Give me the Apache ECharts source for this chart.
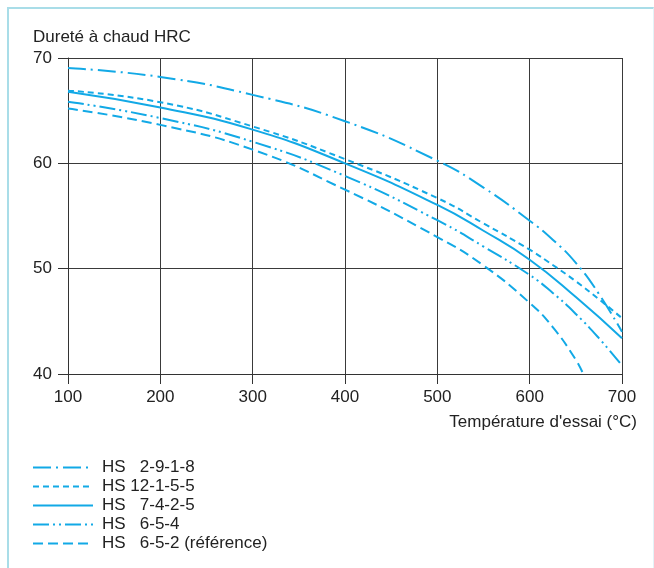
<!DOCTYPE html>
<html>
<head>
<meta charset="utf-8">
<title>Dureté à chaud</title>
<script src="https://cdn.jsdelivr.net/npm/echarts@6/dist/echarts.min.js"></script>
<style>
  html, body { margin: 0; padding: 0; background: #fff; }
  #frame { position: absolute; left: 7px; top: 7px; width: 644px; height: 570px;
           border-top: 2px solid #a9dde8; border-left: 2px solid #a9dde8; border-right: 1px solid #e3f3f8; }
  #chart { position: absolute; left: 0; top: 0; width: 654px; height: 568px; }
</style>
</head>
<body>
<div id="frame"></div>
<div id="chart"></div>
<script>
// temperatures (°C) and hot hardness (HRC)
var tA = [100, 200, 300, 400, 500, 550, 600, 625, 650, 675, 700];
var hs2918 = [69.05, 68.2, 66.5, 64.0, 60.25, 57.7, 54.55, 52.75, 50.55, 47.6, 44.0];
var tB = [100, 200, 300, 400, 500, 550, 600, 625, 650, 675, 700];
var hs12155 = [66.9, 65.8, 63.5, 60.4, 56.7, 54.3, 51.8, 50.35, 48.8, 47.1, 45.3];
var tC = [100, 200, 300, 400, 500, 550, 600, 650, 700];
var hs7425 = [66.8, 65.3, 63.2, 60.0, 56.05, 53.6, 50.85, 47.3, 43.4];
var tD = [100, 200, 300, 400, 500, 550, 600, 625, 650, 675, 700];
var hs654 = [65.85, 64.3, 62.05, 58.8, 54.6, 52.1, 49.4, 47.7, 45.7, 43.4, 40.8];
var tE = [100, 200, 300, 400, 500, 550, 600, 625, 650, 658];
var hs652 = [65.2, 63.65, 61.3, 57.5, 53.0, 50.3, 46.75, 44.45, 41.35, 40.0];

var names = ['HS   2-9-1-8', 'HS 12-1-5-5', 'HS   7-4-2-5', 'HS   6-5-4', 'HS   6-5-2 (référence)'];
var blue = '#12a9e6';

function pairs(xs, ys) {
	return xs.map(function(x, i) { return [x, ys[i]]; });
}

function line(name, xs, ys, dash) {
	return {
		name: name,
		type: 'line',
		smooth: 0.5,
		symbol: 'none',
		data: pairs(xs, ys),
		color: blue,
		lineStyle: { color: blue, width: 2, type: dash }
	};
}

var font = 'Liberation Sans, Arial, sans-serif';
var chart = echarts.init(document.getElementById('chart'));
var option = {
	animation: false,
	textStyle: { fontFamily: font },
	grid: { left: 68, top: 58, right: 32, bottom: 194 },
	legend: {
		orient: 'vertical',
		left: 27,
		top: 454,
		itemWidth: 60,
		itemHeight: 12,
		itemGap: 2,
		itemStyle: { opacity: 0 },
		textStyle: { fontFamily: font, fontSize: 17, color: '#222', padding: [0, 0, 0, 4] },
		data: names
	},
	xAxis: {
		type: 'value',
		min: 100,
		max: 700,
		interval: 100,
		name: "Température d'essai (°C)",
		nameLocation: 'end',
		nameGap: 15,
		nameTextStyle: { fontSize: 17, color: '#222', align: 'right', verticalAlign: 'top', padding: [40, 0, 0, 0] },
		axisLine: { lineStyle: { color: '#333', width: 1 } },
		axisTick: { show: true, length: 10, lineStyle: { color: '#333' } },
		axisLabel: { fontSize: 17, color: '#222', margin: 15 },
		splitLine: { show: true, lineStyle: { color: '#3a3a3a', width: 1 } }
	},
	yAxis: {
		type: 'value',
		min: 40,
		max: 70,
		interval: 10,
		name: 'Dureté à chaud HRC',
		nameLocation: 'end',
		nameGap: 12,
		nameTextStyle: { fontSize: 17, color: '#222', align: 'left', padding: [0, 0, 0, -35] },
		axisLine: { show: true, lineStyle: { color: '#333', width: 1 } },
		axisTick: { show: true, length: 10, lineStyle: { color: '#333' } },
		axisLabel: { fontSize: 17, color: '#222', margin: 16 },
		splitLine: { show: true, lineStyle: { color: '#3a3a3a', width: 1 } }
	},
	series: [
		line(names[0], tA, hs2918, [18, 5, 2, 5]),
		line(names[1], tB, hs12155, [6, 4]),
		line(names[2], tC, hs7425, 'solid'),
		line(names[3], tD, hs654, [16, 4, 2, 4, 2, 4]),
		line(names[4], tE, hs652, [10, 5])
	]
};
chart.setOption(option);
</script>
</body>
</html>
